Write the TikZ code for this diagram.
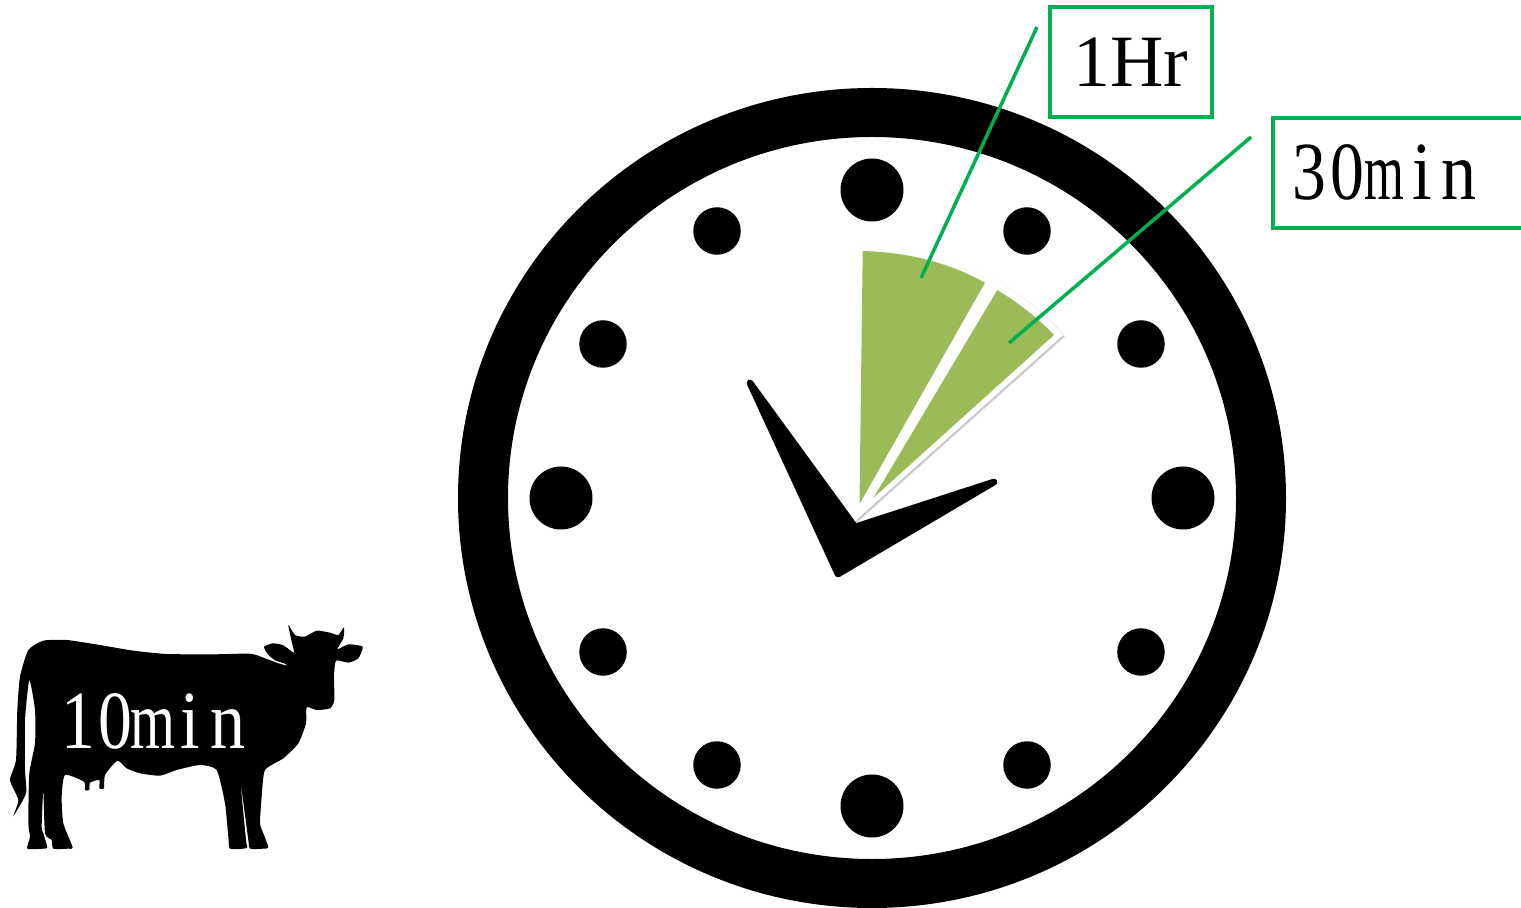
\documentclass[tikz,border=0pt]{standalone}
\usepackage{fontspec}
\setmainfont{Liberation Serif}
\usepackage{xcolor}
\usepackage{tikz}
\usetikzlibrary{shadows.blur}
\definecolor{tagline}{HTML}{00B050}
\definecolor{slice}{HTML}{9BBB59}
\newcommand{\cellch}[2]{\makebox[7.5mm]{\scalebox{#1}[1]{#2}}}
\begin{document}
\begin{tikzpicture}[
  x=0.2mm,y=-0.2mm,
  bigdot/.style={circle,fill=black,inner sep=0pt,minimum size=12.6mm},
  smalldot/.style={circle,fill=black,inner sep=0pt,minimum size=9.5mm},
  tagbox/.style={draw=tagline,line width=2pt,inner sep=0pt,fill=white,
                 font=\fontsize{42}{42}\selectfont},
  minutes/.style={inner sep=0pt,font=\fontsize{47}{47}\selectfont},
  leader/.style={draw=tagline,line width=2pt},
  sliceback/.style={fill=white,draw=white,line width=1pt,line join=round},
  sliceshadow/.style={blur shadow={shadow xshift=0.8pt,shadow yshift=-0.8pt,shadow blur radius=1.2pt,
                                   shadow blur steps=6,shadow opacity=40}},
  slicefill/.style={fill=slice}
]
\useasboundingbox (0,0) rectangle (1521,908);
\clip (0,0) rectangle (1521,908);

% clock face
\fill[even odd rule] (872,498) ellipse [x radius=82.8mm,y radius=82mm]
  (872,498) ellipse [x radius=72.8mm,y radius=72.2mm];
\node[bigdot]   (d12) at (872,190) {};
\node[smalldot] (d1)  at (1027,231) {};
\node[smalldot] (d2)  at (1141,344) {};
\node[bigdot]   (d3)  at (1183,498) {};
\node[smalldot] (d4)  at (1141,652) {};
\node[smalldot] (d5)  at (1027,765) {};
\node[bigdot]   (d6)  at (872,806) {};
\node[smalldot] (d7)  at (717,765) {};
\node[smalldot] (d8)  at (603,652) {};
\node[bigdot]   (d9)  at (561,498) {};
\node[smalldot] (d10) at (603,344) {};
\node[smalldot] (d11) at (717,231) {};

% hands
\filldraw[line width=3.8pt,line join=round] (750,383) -- (855,527) -- (994,482) -- (838,574) -- cycle;

% slices
\path[sliceback,sliceshadow] (855,520) -- (854,245)
  .. controls (905,246) and (950,258) .. (993,280) -- (998,282)
  .. controls (1022,296) and (1043,314) .. (1062,335) -- cycle;
\fill[slicefill] (859.5,504) -- (862.7,251)
  .. controls (907.6,252.3) and (948.3,262.3) .. (985,282.7) -- cycle;
\fill[slicefill] (873.5,497.7) -- (997.3,290)
  .. controls (1020.4,304.3) and (1039.3,319.3) .. (1054,335) -- cycle;

% tags
\node[tagbox,minimum width=32.4mm,minimum height=22mm] (hourtag) at (1131,62) {1Hr};
\node[tagbox,minimum width=54mm,minimum height=22mm,anchor=north west,
      text width=49.4mm,align=left,font=\fontsize{47}{47}\selectfont] (halftag) at (1271,116)
  {\hspace{1.3mm}\cellch{.82}{3}\cellch{.82}{0}\cellch{.62}{m}\cellch{.85}{i}\cellch{.85}{n}};
\coordinate (hourfree) at (1037,27);
\coordinate (hourend)  at (921,278);
\coordinate (halffree) at (1251,137);
\coordinate (halfend)  at (1009,343);
\draw[leader] (hourfree) -- (hourend);
\draw[leader] (halffree) -- (halfend);

% cow
\begin{scope}[shift={(0,610)},x=0.06667mm,y=-0.06667mm]
\fill plot[smooth cycle,tension=.35] coordinates {(130,92) (200,90) (300,105) (400,122) (500,132) (640,133)
  (750,131) (790,143) (830,158) (860,167) (855,161) (825,151) (803,132) (792,110) (820,100) (850,106)
  (882,128) (875,95) (865,45) (885,75) (915,80) (950,62) (990,68) (1015,75)
  (1032,52) (1030,85) (1012,118) (1045,103) (1088,110) (1075,145) (1045,158)
  (1008,152) (1002,200) (1003,270) (990,295) (950,300) (920,292) (918,340)
  (895,400) (850,445) (795,480) (785,560) (780,640) (790,670) (805,712) (790,716)
  (750,716) (745,690) (722,520) (738,690) (742,712) (730,716) (690,716) (685,680)
  (675,580) (650,480) (600,465) (530,480) (480,497) (420,490) (380,475)
  (352,452) (315,495) (312,535) (298,535) (298,510) (270,518) (268,540)
  (255,540) (252,515) (195,495) (185,560) (190,640) (218,712) (205,716) (160,716)
  (155,690) (135,670) (130,540) (125,650) (130,670) (142,712) (130,716) (82,716)
  (90,680) (85,640) (88,490) (105,400) (105,300) (88,210) (75,330)
  (75,480) (78,550) (40,618) (55,570) (30,510) (48,450) (52,300)
  (60,200) (85,120)};
\end{scope}
\node[minutes,text=white] (cowtag) at (153,721)
  {\cellch{.82}{1}\cellch{.82}{0}\cellch{.7}{m}\cellch{.85}{i}\cellch{.85}{n}};
\end{tikzpicture}
\end{document}
